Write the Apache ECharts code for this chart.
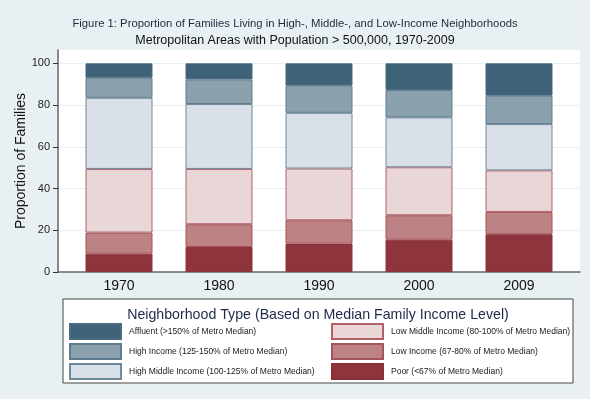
<!DOCTYPE html>
<html>
<head>
<meta charset="utf-8">
<script src="https://cdn.jsdelivr.net/npm/echarts@6/dist/echarts.min.js"></script>
<style>
  html, body { margin: 0; padding: 0; background: #e8f0f3; }
  #chart { width: 590px; height: 399px; }
</style>
</head>
<body>
<div id="chart"></div>
<script>
// years on the x axis
const years = ['1970', '1980', '1990', '2000', '2009']
const yTicks = [0, 20, 40, 60, 80, 100]

// share of families (%) per neighborhood type, bottom to top of each bar
const poor = [8.8, 12.0, 13.6, 15.5, 18.1]
const lowIncome = [10.1, 10.9, 11.2, 11.7, 10.7]
const lowMiddle = [30.5, 26.5, 24.8, 23.0, 19.9]
const highMiddle = [34.1, 31.1, 26.7, 23.9, 22.2]
const highIncome = [9.6, 11.8, 13.0, 13.1, 13.6]
const affluent = [6.9, 7.7, 10.7, 12.8, 15.5]

const seriesDefs = [
  { name: 'Poor (<67% of Metro Median)', data: poor, color: '#8e343c', border: '#8a3038' },
  { name: 'Low Income (67-80% of Metro Median)', data: lowIncome, color: '#bd8283', border: '#a4545b' },
  { name: 'Low Middle Income (80-100% of Metro Median)', data: lowMiddle, color: '#e9d6d7', border: '#b0606a' },
  { name: 'High Middle Income (100-125% of Metro Median)', data: highMiddle, color: '#d9e0e7', border: '#6f889a' },
  { name: 'High Income (125-150% of Metro Median)', data: highIncome, color: '#8ba1ae', border: '#5f7c8e' },
  { name: 'Affluent (>150% of Metro Median)', data: affluent, color: '#3e6278', border: '#4a6b80' }
]

const Y_MAX = 106.4 // plot region runs a little above 100

const legendCommon = {
  orient: 'vertical',
  top: 323,
  padding: 0,
  icon: 'rect',
  itemWidth: 51,
  itemHeight: 15,
  itemGap: 3,
  selectedMode: false,
  textStyle: { fontSize: 8.5, color: '#1a1a1a', padding: [0, 0, 0, 3] }
}

const chart = echarts.init(document.getElementById('chart'))
chart.setOption({
  backgroundColor: '#e8f0f3',
  animation: false,
  textStyle: { fontFamily: 'Liberation Sans, Arial, sans-serif' },
  title: [
    {
      text: 'Figure 1: Proportion of Families Living in High-, Middle-, and Low-Income Neighborhoods',
      subtext: 'Metropolitan Areas with Population > 500,000, 1970-2009',
      left: 'center',
      top: 13,
      itemGap: 5,
      textStyle: { fontSize: 11.3, fontWeight: 'normal', color: '#1e2a3a' },
      subtextStyle: { fontSize: 12.5, color: '#111' }
    },
    {
      text: 'Neighborhood Type (Based on Median Family Income Level)',
      left: 318,
      textAlign: 'center',
      top: 308,
      padding: 0,
      textStyle: { fontSize: 14.2, fontWeight: 'normal', color: '#1c2b4a' }
    }
  ],
  graphic: [
    {
      type: 'rect',
      z: -1,
      shape: { x: 63, y: 299, width: 510, height: 84 },
      style: { fill: '#fff', stroke: '#444', lineWidth: 1 }
    }
  ],
  legend: [
    Object.assign({ left: 69, data: [seriesDefs[5].name, seriesDefs[4].name, seriesDefs[3].name] }, legendCommon),
    Object.assign({ left: 331, data: [seriesDefs[2].name, seriesDefs[1].name, seriesDefs[0].name] }, legendCommon)
  ],
  grid: [
    // grid 0: the bars, with 100px bands
    { left: 69, right: 21, top: 50, bottom: 127 },
    // grid 1: full white plot region with the axis lines and gridlines
    { left: 58, right: 10, top: 50, bottom: 127, show: true, backgroundColor: '#fff', borderWidth: 0, z: -1 }
  ],
  xAxis: [
    {
      gridIndex: 0,
      type: 'category',
      data: years,
      axisLine: { show: false },
      axisTick: { show: false },
      axisLabel: { fontSize: 14, color: '#111', margin: 7 }
    },
    {
      gridIndex: 1,
      type: 'value',
      min: 0,
      max: 1,
      axisLine: { show: true, onZero: false, lineStyle: { color: '#666', width: 1.5 } },
      axisTick: { show: false },
      axisLabel: { show: false },
      splitLine: { show: false }
    }
  ],
  yAxis: [
    {
      gridIndex: 0,
      type: 'value',
      min: 0,
      max: Y_MAX,
      show: false,
      splitLine: { show: false }
    },
    {
      gridIndex: 1,
      type: 'value',
      min: 0,
      max: Y_MAX,
      name: 'Proportion of Families',
      nameLocation: 'middle',
      nameGap: 30,
      nameMoveOverlap: false,
      nameTextStyle: { fontSize: 14, color: '#111' },
      axisLine: { show: true, onZero: false, lineStyle: { color: '#666', width: 1.5 } },
      axisTick: { show: true, customValues: yTicks, length: 5, lineStyle: { color: '#333' } },
      axisLabel: { customValues: yTicks, fontSize: 11, color: '#222', margin: 8 },
      splitLine: { show: true, lineStyle: { color: '#e6eff1', width: 1 } }
    }
  ],
  series: seriesDefs.map(s => ({
    name: s.name,
    type: 'bar',
    xAxisIndex: 0,
    yAxisIndex: 0,
    stack: 'total',
    barWidth: 67,
    itemStyle: { color: s.color, borderColor: s.border, borderWidth: 1 },
    data: s.data
  }))
})
</script>
</body>
</html>
